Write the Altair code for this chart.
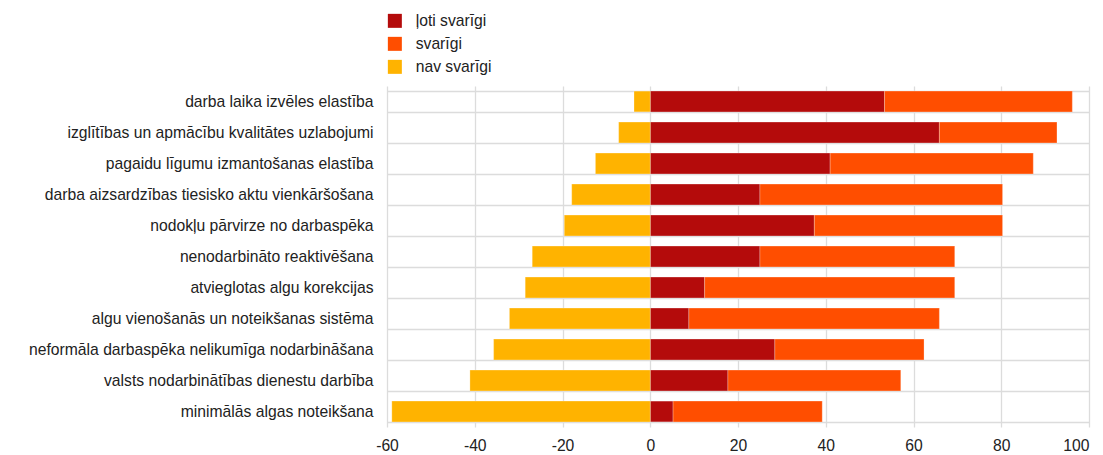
import altair as alt
import pandas as pd

categories = [
    "darba laika izvēles elastība",
    "izglītības un apmācību kvalitātes uzlabojumi",
    "pagaidu līgumu izmantošanas elastība",
    "darba aizsardzības tiesisko aktu vienkāršošana",
    "nodokļu pārvirze no darbaspēka",
    "nenodarbināto reaktivēšana",
    "atvieglotas algu korekcijas",
    "algu vienošanās un noteikšanas sistēma",
    "neformāla darbaspēka nelikumīga nodarbināšana",
    "valsts nodarbinātības dienestu darbība",
    "minimālās algas noteikšana",
]
loti_svarigi = [53.4, 65.9, 41.0, 25.0, 37.4, 25.0, 12.4, 8.8, 28.4, 17.7, 5.2]
svarigi = [42.8, 26.8, 46.3, 55.3, 42.9, 44.4, 57.0, 57.1, 34.0, 39.4, 34.0]
nav_svarigi = [-3.7, -7.2, -12.5, -17.9, -19.6, -26.9, -28.5, -32.1, -35.7, -41.1, -58.9]

series = ["ļoti svarīgi", "svarīgi", "nav svarīgi"]
colors = ["#B40B0B", "#FF4E00", "#FFB300"]
x_ticks = [-60, -40, -20, 0, 20, 40, 60, 80, 100]

rows = []
for i, c in enumerate(categories):
    rows.append({"cat": c, "series": series[0], "value": loti_svarigi[i], "ord": 0})
    rows.append({"cat": c, "series": series[1], "value": svarigi[i], "ord": 1})
    rows.append({"cat": c, "series": series[2], "value": nav_svarigi[i], "ord": 2})
df = pd.DataFrame(rows)

FONT = "Liberation Sans"
FS = 15.7

chart = alt.Chart(df).mark_bar(stroke="white", strokeWidth=0.5, strokeOpacity=0.5).encode(
    y=alt.Y("cat:N", sort=categories, title=None,
            scale=alt.Scale(paddingInner=0.33, paddingOuter=0.165),
            axis=alt.Axis(tickBand="extent", grid=True, gridColor="#dcdcdc", gridWidth=1.3,
                          domain=False, ticks=False, labelFont=FONT, labelFontSize=FS,
                          labelColor="#222222", labelPadding=14, labelLimit=400)),
    x=alt.X("value:Q", stack="zero", title=None,
            scale=alt.Scale(domain=[-60, 100], nice=False, zero=False),
            axis=alt.Axis(values=x_ticks, grid=True, gridColor="#dcdcdc", gridWidth=1.3,
                          domain=False, ticks=False, labelFont=FONT, labelFontSize=FS,
                          labelColor="#222222", labelPadding=11, labelFlush=False,
                          labelAlign={"expr": "datum.value == 100 ? 'right' : 'center'"},
                          labelExpr="toString(datum.value)")),
    color=alt.Color("series:N", scale=alt.Scale(domain=series, range=colors),
                    legend=alt.Legend(title=None, orient="none", legendX=0, legendY=-73,
                                      symbolType="square", symbolSize=196, symbolStrokeWidth=0,
                                      labelFont=FONT, labelFontSize=FS, labelColor="#222222",
                                      rowPadding=6, labelOffset=13, padding=0)),
    order=alt.Order("ord:Q"),
).properties(
    width=702, height=341,
    padding={"left": 379, "top": 78, "right": 6, "bottom": 30},
    autosize=alt.AutoSizeParams(type="none"),
).configure_view(stroke=None)

chart.save("out.html", embed_options={"renderer": "svg", "actions": False})
